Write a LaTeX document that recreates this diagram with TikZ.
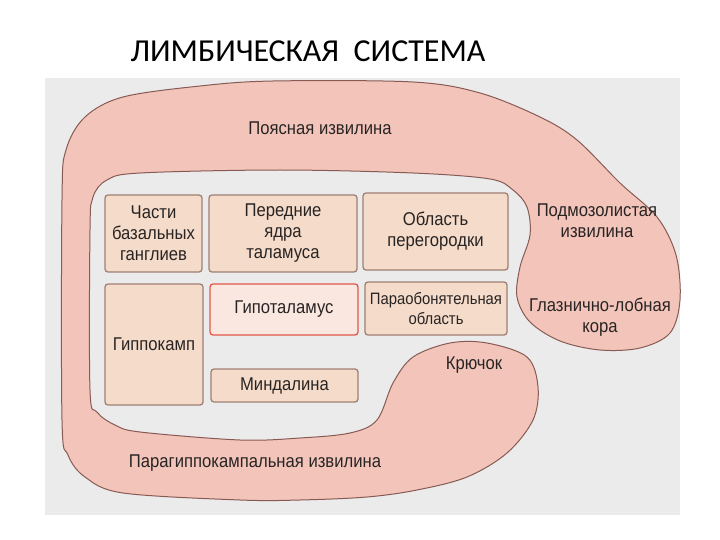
\documentclass[tikz,border=0pt]{standalone}
\usepackage{fontspec}
\usepackage{xcolor}
\usepackage{tikz}
\setmainfont[FakeStretch=0.9]{Liberation Sans}
\newfontfamily\titlefont{Carlito}
\definecolor{page}{RGB}{236,235,235}
\definecolor{gyrus}{RGB}{243,197,186}
\definecolor{gyrusline}{RGB}{135,90,84}
\definecolor{partfill}{RGB}{245,219,201}
\definecolor{partline}{RGB}{158,128,116}
\definecolor{hypoline}{RGB}{226,88,72}
\definecolor{hypofill}{RGB}{250,232,224}
\definecolor{ink}{RGB}{40,36,36}

\begin{document}
\begin{tikzpicture}[x=1pt,y=-1pt,
			part/.style={draw=partline,line width=1.3pt,fill=partfill,rounded corners=3pt,
				align=center,inner sep=1pt,text=ink,font=\fontsize{18.5}{21}\selectfont},
			gyrustext/.style={align=center,inner sep=0pt,text=ink,font=\fontsize{18.5}{21}\selectfont}]
			\useasboundingbox (0,0) rectangle (720,540);
			\fill[page] (45,78) rectangle (680,515);
			\node (title) at (308,51) {\titlefont\fontsize{32}{34}\selectfont ЛИМБИЧЕСКАЯ\ \ СИСТЕМА};
			\draw[gyrusline,line width=1pt,fill=gyrus] plot[smooth cycle,tension=0.55] coordinates {
				(62,200) (66,150) (85,117) (123,97) (200,86) (273,81) (413,82) (480,93)
				(540,117) (577,140) (620,183) (657,217) (676,255) (680,300) (670,333)
				(640,348) (600,350) (560,341) (530,322) (517,297) (520,267) (530,235)
				(527,207) (513,190) (490,179) (413,173) (280,170) (140,173) (107,180)
				(93,197) (90,230) (90,390) (97,412) (115,425) (140,432) (240,440)
				(300,438) (350,433) (377,420) (393,383) (413,357) (450,343) (487,343)
				(527,357) (538,387) (533,420) (507,453) (467,477) (417,490) (367,497)
				(300,500) (240,500) (123,493) (85,477) (68,455) (62,420)};
			\node (cingulate) [gyrustext] at (320,128) {Поясная извилина};
			\node (subcallosal) [gyrustext] at (597,221) {Подмозолистая\\извилина};
			\node (orbitofrontal) [gyrustext] at (600,317) {Глазнично-лобная\\кора};
			\node (uncus) [gyrustext] at (474,365) {Крючок};
			\node (parahippocampal) [gyrustext] at (255,463) {Парагиппокампальная извилина};
			\node (basal) [part,minimum width=97,minimum height=77] at (153.5,233.5) {Части\\базальных\\ганглиев};
			\node (thalamus) [part,minimum width=148,minimum height=77] at (283,233.5) {Передние\\ядра\\таламуса};
			\node (septum) [part,minimum width=145,minimum height=77] at (435.5,231.5) {Область\\перегородки};
			\node (hippocampus) [part,minimum width=98,minimum height=121] at (154,344.5) {Гиппокамп};
			\node (hypothalamus) [part,draw=hypoline,fill=hypofill,minimum width=148,minimum height=51] at (284,309.5) {Гипоталамус};
			\node (paraolfactory) [part,minimum width=142,minimum height=53,font=\fontsize{16.5}{20}\selectfont] at (436,308.5) {Параобонятельная\\область};
			\node (amygdala) [part,minimum width=147,minimum height=33] at (284.5,385.5) {Миндалина};
		\end{tikzpicture}
\end{document}
